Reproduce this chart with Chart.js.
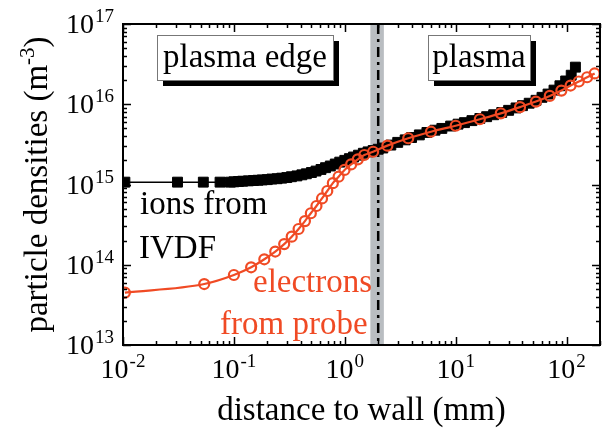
<!DOCTYPE html>
<html><head><meta charset="utf-8">
<script src="https://cdn.jsdelivr.net/npm/chart.js@4/dist/chart.umd.min.js"></script>
<style>html,body{margin:0;padding:0;background:#fff}canvas{display:block}</style>
</head><body>
<canvas id="c" width="608" height="432"></canvas>
<script>
// ---- data ----
const ionDistance = [0.0104, 0.031, 0.053, 0.075, 0.093, 0.1, 0.11, 0.12, 0.135, 0.15, 0.165, 0.18, 0.2, 0.22, 0.245, 0.27, 0.3, 0.33, 0.37, 0.41, 0.45, 0.5, 0.55, 0.61, 0.67, 0.74, 0.82, 0.9, 1.0, 1.1, 1.2, 1.33, 1.47, 1.62, 1.8, 2.0, 2.2, 2.6, 3.0, 3.5, 4.0, 4.7, 5.5, 6.5, 7.5, 9, 10.5, 12, 14, 16.5, 19, 22, 26, 30, 35, 40, 46, 53, 60, 68, 77, 87, 98, 110, 120];
const ionDensity = [1.07e15, 1.07e15, 1.07e15, 1.07e15, 1.07e15, 1.08e15, 1.09e15, 1.10e15, 1.11e15, 1.12e15, 1.13e15, 1.14e15, 1.15e15, 1.17e15, 1.18e15, 1.20e15, 1.22e15, 1.25e15, 1.28e15, 1.32e15, 1.36e15, 1.41e15, 1.47e15, 1.54e15, 1.62e15, 1.70e15, 1.80e15, 1.90e15, 2.0e15, 2.1e15, 2.2e15, 2.32e15, 2.45e15, 2.55e15, 2.65e15, 2.75e15, 2.85e15, 3.1e15, 3.35e15, 3.6e15, 3.85e15, 4.15e15, 4.45e15, 4.75e15, 5.0e15, 5.35e15, 5.65e15, 5.9e15, 6.25e15, 6.65e15, 7.0e15, 7.4e15, 7.9e15, 8.4e15, 9.0e15, 9.6e15, 1.03e16, 1.12e16, 1.22e16, 1.34e16, 1.5e16, 1.7e16, 1.95e16, 2.3e16, 2.9e16];
const electronDistance = [0.0104, 0.054, 0.1, 0.143, 0.188, 0.236, 0.284, 0.332, 0.383, 0.437, 0.494, 0.555, 0.623, 0.695, 0.78, 0.879, 0.994, 1.14, 1.31, 1.5, 1.8, 2.42, 3.73, 5.98, 10.0, 16.5, 25.5, 38.0, 52.9, 70.5, 89.7, 108.6, 128.8, 153, 179];
const electronDensity = [4.5e13, 5.75e13, 7.45e13, 9.3e13, 1.17e14, 1.46e14, 1.81e14, 2.24e14, 2.79e14, 3.5e14, 4.38e14, 5.4e14, 6.7e14, 8.3e14, 1.04e15, 1.25e15, 1.52e15, 1.78e15, 2.06e15, 2.33e15, 2.56e15, 3.05e15, 3.77e15, 4.55e15, 5.4e15, 6.5e15, 7.7e15, 9.2e15, 1.08e16, 1.27e16, 1.48e16, 1.71e16, 1.92e16, 2.17e16, 2.42e16];
const xTickExponents = [-2, -1, 0, 1, 2];
const yTickExponents = [13, 14, 15, 16, 17];
const xRange = [0.01, 200];
const yRange = [1e13, 1e17];
const sheathBand = [1.7, 2.25];
const sheathEdge = 2.0;
const xTitle = 'distance to wall (mm)';
const yTitleMain = 'particle densities (m';
const yTitleSup = '-3';
const yTitleEnd = ')';
const regionLabels = ['plasma edge', 'plasma'];
const ionLabel = ['ions from', 'IVDF'];
const electronLabel = ['electrons', 'from probe'];

const ORANGE = '#f04a24';
const FONT = '"Liberation Serif", "Times New Roman", serif';

function pts(xs, ys) { return xs.map((x, i) => ({x: x, y: ys[i]})); }

const decor = {
  id: 'decor',
  beforeDatasetsDraw(chart) {
    const {ctx, chartArea: a, scales: {x, y}} = chart;
    ctx.save();
    const b0 = x.getPixelForValue(sheathBand[0]), b1 = x.getPixelForValue(sheathBand[1]);
    ctx.fillStyle = '#b9bdc1';
    ctx.fillRect(b0, a.top, b1 - b0, a.bottom - a.top);
    const lx = x.getPixelForValue(sheathEdge);
    ctx.strokeStyle = '#000';
    ctx.lineWidth = 2.5;
    ctx.setLineDash([10, 5, 3, 5]);
    ctx.beginPath(); ctx.moveTo(lx, a.top); ctx.lineTo(lx, a.bottom); ctx.stroke();
    ctx.restore();
  },
  afterDraw(chart) {
    const {ctx, chartArea: a, scales: {x, y}} = chart;
    ctx.save();
    // annotation boxes
    function box(bx, by, w, h, text) {
      ctx.fillStyle = '#000';
      ctx.fillRect(bx + 6, by + 6, w, h);
      ctx.fillStyle = '#fff';
      ctx.fillRect(bx, by, w, h);
      ctx.strokeStyle = '#777';
      ctx.lineWidth = 1;
      ctx.strokeRect(bx + 0.5, by + 0.5, w, h);
      ctx.fillStyle = '#000';
      ctx.font = '33px ' + FONT;
      ctx.textAlign = 'center';
      ctx.textBaseline = 'alphabetic';
      ctx.fillText(text, bx + w / 2, by + 32);
    }
    box(a.left + 34, a.top + 11, 176, 45, regionLabels[0]);
    box(a.left + 305, a.top + 11, 102, 45, regionLabels[1]);
    // series labels
    ctx.textAlign = 'left';
    ctx.font = '33px ' + FONT;
    ctx.fillStyle = '#000';
    ctx.fillText(ionLabel[0], a.left + 17, a.top + 190);
    ctx.fillText(ionLabel[1], a.left + 16, a.top + 234);
    ctx.fillStyle = ORANGE;
    ctx.fillText(electronLabel[0], a.left + 130, a.top + 268);
    ctx.fillText(electronLabel[1], a.left + 97, a.top + 310);

    // frame
    ctx.strokeStyle = '#000';
    ctx.lineWidth = 2;
    ctx.strokeRect(a.left, a.top, a.right - a.left, a.bottom - a.top);
    // ticks
    ctx.lineWidth = 1.5;
    ctx.beginPath();
    for (let d = -2; d <= 2; d++) {
      for (let m = 1; m <= 9; m++) {
        const v = m * Math.pow(10, d);
        if (v < xRange[0] || v > xRange[1]) continue;
        const px = Math.round(x.getPixelForValue(v)) + 0.5;
        const L = m === 1 ? 8 : 4;
        ctx.moveTo(px, a.bottom); ctx.lineTo(px, a.bottom - L);
        ctx.moveTo(px, a.top); ctx.lineTo(px, a.top + L);
      }
    }
    for (let d = 13; d <= 17; d++) {
      for (let m = 1; m <= 9; m++) {
        const v = m * Math.pow(10, d);
        if (v < yRange[0] || v > yRange[1]) continue;
        const py = Math.round(y.getPixelForValue(v)) + 0.5;
        const L = m === 1 ? 8 : 4;
        ctx.moveTo(a.left, py); ctx.lineTo(a.left + L, py);
        ctx.moveTo(a.right, py); ctx.lineTo(a.right - L, py);
      }
    }
    ctx.stroke();

    // tick labels
    const bigF = '28px ' + FONT, supF = '19px ' + FONT;
    ctx.fillStyle = '#000';
    ctx.textAlign = 'left';
    ctx.textBaseline = 'alphabetic';
    function sized(exp) {
      ctx.font = bigF; const w1 = ctx.measureText('10').width;
      ctx.font = supF; const w2 = ctx.measureText(exp).width;
      return [w1, w2];
    }
    function drawPow(sx, base, exp) {
      ctx.font = bigF; ctx.fillText('10', sx, base);
      const w1 = ctx.measureText('10').width;
      ctx.font = supF; ctx.fillText(exp, sx + w1 + 1, base - 11);
    }
    xTickExponents.forEach(e => {
      const exp = String(e);
      const [w1, w2] = sized(exp);
      const px = x.getPixelForValue(Math.pow(10, e));
      drawPow(px - (w1 + w2 + 1) / 2, a.bottom + 33, exp);
    });
    yTickExponents.forEach(e => {
      const exp = String(e);
      const [w1, w2] = sized(exp);
      const py = y.getPixelForValue(Math.pow(10, e));
      drawPow(a.left - 9 - (w1 + w2 + 1), py + 9, exp);
    });
    // axis titles
    ctx.font = '33px ' + FONT;
    ctx.textAlign = 'center';
    ctx.fillText(xTitle, (a.left + a.right) / 2, a.bottom + 75);
    ctx.save();
    ctx.translate(47, (a.top + a.bottom) / 2);
    ctx.rotate(-Math.PI / 2);
    ctx.font = '33px ' + FONT;
    const w1 = ctx.measureText(yTitleMain).width;
    ctx.font = '21px ' + FONT;
    const w2 = ctx.measureText(yTitleSup).width;
    ctx.font = '33px ' + FONT;
    const w3 = ctx.measureText(yTitleEnd).width;
    let sx = -(w1 + w2 + w3) / 2;
    ctx.textAlign = 'left';
    ctx.fillText(yTitleMain, sx, 0);
    ctx.font = '21px ' + FONT;
    ctx.fillText(yTitleSup, sx + w1, -13);
    ctx.font = '33px ' + FONT;
    ctx.fillText(yTitleEnd, sx + w1 + w2, 0);
    ctx.restore();
    ctx.restore();
  }
};

new Chart(document.getElementById('c'), {
  type: 'line',
  data: {
    datasets: [
      {
        label: 'ions from IVDF',
        data: pts(ionDistance, ionDensity),
        borderColor: '#000', borderWidth: 1.5,
        pointStyle: 'rect', pointRadius: 7, pointBorderWidth: 1,
        pointBackgroundColor: '#000', pointBorderColor: '#000',
        tension: 0, order: 2
      },
      {
        label: 'electrons from probe',
        data: pts(electronDistance, electronDensity),
        borderColor: ORANGE, borderWidth: 2.2,
        pointStyle: 'circle', pointRadius: 5, pointBorderWidth: 2.2,
        pointBackgroundColor: 'rgba(0,0,0,0)', pointBorderColor: ORANGE,
        cubicInterpolationMode: 'monotone', order: 1
      }
    ]
  },
  options: {
    responsive: false, animation: false, events: [],
    layout: {padding: {left: 123, top: 24, right: 4, bottom: 87}},
    plugins: {legend: {display: false}, tooltip: {enabled: false}},
    scales: {
      x: {type: 'logarithmic', min: xRange[0], max: xRange[1], display: false},
      y: {type: 'logarithmic', min: yRange[0], max: yRange[1], display: false}
    }
  },
  plugins: [decor]
});
</script>
</body></html>
